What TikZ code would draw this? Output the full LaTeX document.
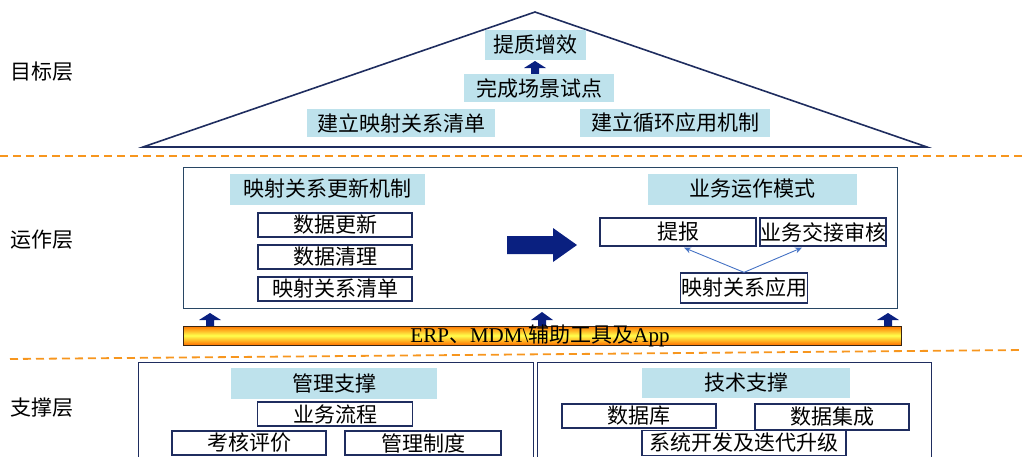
\documentclass[tikz,border=0pt]{standalone}
\usepackage{fontspec}
\setmainfont{Liberation Serif}
\newfontfamily\cjk{Noto Sans CJK SC}
\usetikzlibrary{arrows.meta,calc}
\definecolor{lblue}{RGB}{190,226,236}
\definecolor{navyb}{RGB}{31,45,95}
\definecolor{tealb}{RGB}{40,70,100}
\definecolor{arrnavy}{RGB}{10,32,128}
\definecolor{dorange}{RGB}{247,150,30}
\definecolor{thinblue}{RGB}{68,114,196}
\begin{document}
\begin{tikzpicture}[x=1pt,y=-1pt,
  every node/.style={font=\cjk\fontsize{21}{25}\selectfont, inner sep=0pt},
  lb/.style={fill=lblue, minimum height=30pt},
  wb/.style={draw=navyb, line width=1.3pt, fill=white, minimum height=24pt},
  layer/.style={anchor=center},
  sep/.style={draw=dorange, line width=1.8pt, dash pattern=on 8pt off 5pt},
  upa/.style={fill=arrnavy}
]
\useasboundingbox (0,0) rectangle (1023,456);
% separators
\draw[sep] (0,156) -- (1023,156);
\draw[sep] (10,359) -- (1023,350);
% layer labels
\node[layer] (l1) at (42,72) {目标层};
\node[layer] (l2) at (42,240) {运作层};
\node[layer] (l3) at (42,408) {支撑层};
% triangle
\coordinate (apex) at (535,12);
\coordinate (bl) at (143,147);
\coordinate (br) at (927,147);
\draw[navyb, line width=1.6pt, line join=miter] (bl) -- (apex) -- (br) -- cycle;
\node[lb, minimum width=101pt] (g1) at (535,45) {提质增效};
\fill[upa, shift={(535,74)}] (-4,0) -- (-4,-6) -- (-11,-6) -- (0,-13) -- (11,-6) -- (4,-6) -- (4,0) -- cycle;
\node[lb, minimum width=150pt, minimum height=28pt] (g2) at (539,88) {完成场景试点};
\node[lb, minimum width=188pt, minimum height=28pt] (g3) at (401,123) {建立映射关系清单};
\node[lb, minimum width=190pt, minimum height=28pt] (g4) at (675,123) {建立循环应用机制};
% operation box
\node[draw=tealb, line width=1.3pt, minimum width=714pt, minimum height=141pt, anchor=north west] (ops) at (183,167) {};
\node[lb, minimum width=195pt, minimum height=31pt] (m1) at (327,189) {映射关系更新机制};
\node[lb, minimum width=209pt, minimum height=31pt] (m2) at (752,189) {业务运作模式};
\node[wb, minimum width=154pt] (d1) at (335,225) {数据更新};
\node[wb, minimum width=154pt] (d2) at (335,257) {数据清理};
\node[wb, minimum width=154pt] (d3) at (335,289) {映射关系清单};
\fill[arrnavy] (507,236) -- (553,236) -- (553,228) -- (577,245) -- (553,262) -- (553,254) -- (507,254) -- cycle;
\node[wb, minimum width=156pt, minimum height=28pt] (tb) at (678,232) {提报};
\node[wb, minimum width=126pt, minimum height=28pt] (hs) at (823,232) {业务交接审核};
\node[wb, minimum width=127pt, minimum height=30pt] (app) at (744,288) {映射关系应用};
\draw[thinblue, line width=0.9pt, -{Stealth[length=7pt,width=6pt]}] (app.north) -- ($(tb.south)+(6,1)$);
\draw[thinblue, line width=0.9pt, -{Stealth[length=7pt,width=6pt]}] (app.north) -- ($(hs.south)+(-21,1)$);
% up arrows
\fill[upa, shift={(210,326)}] (-4,0) -- (-4,-6) -- (-11,-6) -- (0,-13) -- (11,-6) -- (4,-6) -- (4,0) -- cycle;
\fill[upa, shift={(542,326)}] (-4,0) -- (-4,-6) -- (-11,-6) -- (0,-14) -- (11,-6) -- (4,-6) -- (4,0) -- cycle;
\fill[upa, shift={(888,326)}] (-4,0) -- (-4,-6) -- (-11,-6) -- (0,-13) -- (11,-6) -- (4,-6) -- (4,0) -- cycle;
% orange bar
\shade[top color=orange!90!red, bottom color=orange!90!red, middle color=yellow!70] (183,326) rectangle (901,345);
\node[draw=black!70!brown, line width=1pt, minimum width=718pt, minimum height=19pt, anchor=north west] (bar) at (183,326) {};
\node[font=\fontsize{21}{25}\selectfont] (bartext) at (540,336) {ERP{\cjk 、}MDM\textbackslash{\cjk 辅助工具及}App};
% support boxes
\node[draw=navyb, line width=1.3pt, minimum width=395pt, minimum height=100pt, anchor=north west] (mg) at (138,362) {};
\node[draw=navyb, line width=1.3pt, minimum width=394pt, minimum height=100pt, anchor=north west] (te) at (537,362) {};
\node[lb, minimum width=206pt, minimum height=31pt] (s1) at (334,383) {管理支撑};
\node[wb, minimum width=155pt] (s2) at (335,414) {业务流程};
\node[wb, minimum width=154pt] (s3) at (249,443) {考核评价};
\node[wb, minimum width=156pt] (s4) at (423,443) {管理制度};
\node[lb, minimum width=208pt, minimum height=30pt] (t1) at (746,383) {技术支撑};
\node[wb, minimum width=154pt] (t2) at (639,416) {数据库};
\node[wb, minimum width=154pt, minimum height=26pt] (t3) at (832,417) {数据集成};
\node[wb, minimum width=204pt, minimum height=25pt] (t4) at (744,443) {系统开发及迭代升级};
\end{tikzpicture}
\end{document}
